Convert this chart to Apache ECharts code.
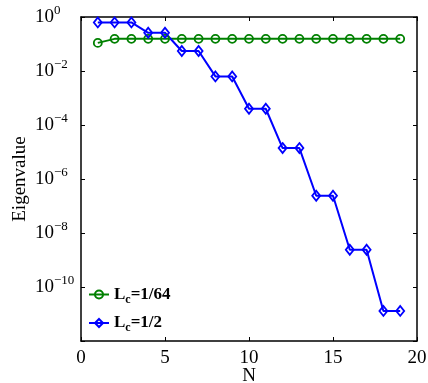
<!DOCTYPE html>
<html><head><meta charset="utf-8">
<script src="https://cdn.jsdelivr.net/npm/echarts@6/dist/echarts.min.js"></script>
<style>html,body{margin:0;padding:0;background:#fff}#c{width:428px;height:383px}</style>
</head><body><div id="c"></div>
<script>
const N = [1,2,3,4,5,6,7,8,9,10,11,12,13,14,15,16,17,18,19];
const lc64 = [0.11,0.155,0.155,0.155,0.155,0.155,0.155,0.155,0.155,0.155,0.155,0.155,0.155,0.155,0.155,0.155,0.155,0.155,0.155];
const lc2 = [0.63,0.63,0.63,0.26,0.26,0.055,0.055,6.3e-3,6.3e-3,4e-4,4e-4,1.4e-5,1.4e-5,2.4e-7,2.4e-7,2.4e-9,2.4e-9,1.3e-11,1.3e-11];
const xTicks = [0,5,10,15,20];
const names = ['L{s|c}=1/64','L{s|c}=1/2'];

const font = 'Liberation Serif';
const chart = echarts.init(document.getElementById('c'));
const sup = v => {
  const e = Math.round(Math.log10(v));
  if (e === -12) return '';
  return '{b|10}{s|' + (e < 0 ? '\u2212' + (-e) : e) + '}';
};
const axisCommon = {
  axisLine:{show:true,onZero:false,lineStyle:{color:'#000',width:1.5}},
  axisTick:{show:true,inside:true,length:4,lineStyle:{color:'#000',width:1}},
  splitLine:{show:false}
};
chart.setOption({
  animation:false,
  grid:{left:81,right:11,top:17,bottom:42,outerBoundsMode:'none',containLabel:false},
  legend:{
    left:88, top:286, padding:0, orient:'vertical', itemGap:9, itemWidth:20, itemHeight:10,
    data:names,
    textStyle:{fontFamily:font,fontWeight:'bold',fontSize:17,color:'#000',
      rich:{s:{fontFamily:font,fontWeight:'bold',fontSize:12,padding:[10,0,0,0],color:'#000'}}}
  },
  xAxis:[
    Object.assign({type:'value',min:0,max:20,interval:5,position:'bottom',
      name:'N',nameLocation:'middle',nameGap:26,nameMoveOverlap:false,
      nameTextStyle:{fontFamily:font,fontSize:19,color:'#000'},
      axisLabel:{fontFamily:font,fontSize:19,color:'#000',margin:8}},axisCommon),
    Object.assign({type:'value',min:0,max:20,interval:5,position:'top',axisLabel:{show:false}},axisCommon)
  ],
  yAxis:[
    Object.assign({type:'log',logBase:10,min:1e-12,max:1,interval:2,
      name:'Eigenvalue',nameLocation:'middle',nameGap:51,nameMoveOverlap:false,
      nameTextStyle:{fontFamily:font,fontSize:19,color:'#000'},
      axisLabel:{formatter:sup,margin:46,align:'left',
        rich:{b:{fontFamily:font,fontSize:19,color:'#000'},
              s:{fontFamily:font,fontSize:13,color:'#000',padding:[0,0,12,0]}}}},axisCommon),
    Object.assign({type:'log',logBase:10,min:1e-12,max:1,interval:2,position:'right',axisLabel:{show:false}},axisCommon)
  ],
  series:[
    {name:names[0],type:'line',data:N.map((n,i)=>[n,lc64[i]]),
     symbol:'circle',symbolSize:8,
     lineStyle:{color:'#008000',width:2},
     itemStyle:{color:'rgba(255,255,255,0)',borderColor:'#008000',borderWidth:1.8}},
    {name:names[1],type:'line',data:N.map((n,i)=>[n,lc2[i]]),
     symbol:'diamond',symbolSize:[8,10],
     lineStyle:{color:'#0000ff',width:2},
     itemStyle:{color:'rgba(255,255,255,0)',borderColor:'#0000ff',borderWidth:1.8}}
  ]
});
</script></body></html>
